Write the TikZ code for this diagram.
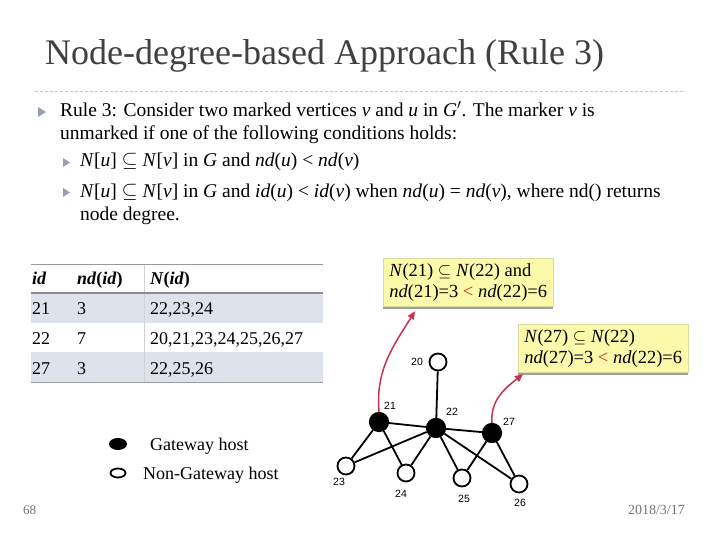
\documentclass[tikz,border=0pt]{standalone}
\usepackage{fontspec}
\setmainfont{Liberation Serif}
\setsansfont{Liberation Sans}
\usetikzlibrary{shapes.geometric,shadows,arrows.meta}

\definecolor{titlegray}{RGB}{64,64,64}
\definecolor{bulletgray}{RGB}{150,160,178}
\definecolor{rowshade}{RGB}{222,226,234}
\definecolor{notefill}{RGB}{250,250,170}
\definecolor{arrowred}{RGB}{200,50,80}
\definecolor{ltred}{RGB}{205,40,10}

\begin{document}
\begin{tikzpicture}[x=1pt,y=1pt,
  gw/.style={circle,fill=black,draw=black,line width=1.2pt,minimum size=19pt,inner sep=0pt},
  ngw/.style={circle,fill=white,draw=black,line width=1.8pt,minimum size=17pt,inner sep=0pt},
  lbl/.style={font=\sffamily\fontsize{10.5}{12}\selectfont,inner sep=0pt},
  link/.style={line width=1.8pt},
  body/.style={anchor=base west,inner sep=0pt,font=\fontsize{19.5}{22}\selectfont},
  cell/.style={anchor=base west,inner sep=0pt,font=\fontsize{18}{22}\selectfont},
  note/.style={anchor=north west,fill=notefill,draw=notefill!75!gray,line width=0.4pt,
    align=left,minimum width=170pt,inner xsep=6pt,inner ysep=5pt,
    font=\fontsize{18.5}{21}\selectfont,
    drop shadow={shadow xshift=0pt,shadow yshift=-3pt,fill=gray!75,opacity=1}},
  pointer/.style={arrowred,line width=1.5pt,-{Triangle[length=8pt,width=7pt]}}]
  \useasboundingbox (0,0) rectangle (720,-540);

  % title
  \node[anchor=base west,inner sep=0pt,font=\fontsize{36}{40}\selectfont,text=titlegray] (title) at (45,-65) {Node-degree-based Approach (Rule 3)};
  \draw[gray!45,dash pattern=on 3pt off 2pt] (35,-91) -- (685,-91);

  % bullets
  \fill[bulletgray] (38,-107) -- (46,-112) -- (38,-117) -- cycle;
  \fill[bulletgray] (63,-158) -- (70,-162.5) -- (63,-167) -- cycle;
  \fill[bulletgray] (63,-188) -- (70,-192.5) -- (63,-197) -- cycle;
  \node[body] (rule1) at (60,-117) {Rule 3: Consider two marked vertices \textit{v} and \textit{u} in \textit{G}$'$. The marker \textit{v} is};
  \node[body] (rule2) at (60,-140) {unmarked if one of the following conditions holds:};
  \node[body] (cond1) at (80,-167) {\textit{N}[\textit{u}] $\subseteq$ \textit{N}[\textit{v}] in \textit{G} and \textit{nd}(\textit{u}) < \textit{nd}(\textit{v})};
  \node[body] (cond2) at (80,-198) {\textit{N}[\textit{u}] $\subseteq$ \textit{N}[\textit{v}] in \textit{G} and \textit{id}(\textit{u}) < \textit{id}(\textit{v}) when \textit{nd}(\textit{u}) = \textit{nd}(\textit{v}), where nd() returns};
  \node[body] (cond3) at (80,-221) {node degree.};

  % table
  \fill[rowshade] (31,-293) rectangle (323,-323);
  \fill[rowshade] (31,-352) rectangle (323,-382);
  \draw[gray!35] (144,-264) -- (144,-382);
  \draw[gray!80,line width=1pt] (31,-264) -- (323,-264);
  \draw[gray!90,line width=1.2pt] (31,-293) -- (323,-293);
  \draw[gray!80,line width=1pt] (31,-382) -- (323,-382);
  \node[cell] (hid) at (32,-284) {\textbf{\textit{id}}};
  \node[cell] (hnd) at (77,-284) {\textbf{\textit{nd}(\textit{id})}};
  \node[cell] (hnb) at (150,-284) {\textbf{\textit{N}(\textit{id})}};
  \foreach \id/\nd/\nb [count=\i] in {21/3/{22,23,24},22/7/{20,21,23,24,25,26,27},27/3/{22,25,26}}{
    \node[cell] (id\i) at (32,-284-30*\i) {\id};
    \node[cell] (nd\i) at (77,-284-30*\i) {\nd};
    \node[cell] (nb\i) at (150,-284-30*\i) {\nb};
  }

  % notes
  \node[note] (note1) at (383,-258) {\textit{N}(21) $\subseteq$ \textit{N}(22) and\\\textit{nd}(21)=3 \textcolor{ltred}{<} \textit{nd}(22)=6};
  \node[note] (note2) at (518,-324) {\textit{N}(27) $\subseteq$ \textit{N}(22)\\\textit{nd}(27)=3 \textcolor{ltred}{<} \textit{nd}(22)=6};

  % graph
  \node[ngw] (v20) at (438,-362) {};
  \node[gw]  (v21) at (379,-422) {};
  \node[gw]  (v22) at (436,-428) {};
  \node[gw]  (v27) at (492,-433) {};
  \node[ngw] (v23) at (346,-466) {};
  \node[ngw] (v24) at (406,-473) {};
  \node[ngw] (v25) at (462,-478) {};
  \node[ngw] (v26) at (519,-484) {};
  \foreach \a/\b in {20/22,21/22,22/27,21/23,21/24,22/23,22/24,22/25,22/26,27/25,27/26}
    \draw[link] (v\a) -- (v\b);
  \node[lbl] (l20) at (417,-362) {20};
  \node[lbl] (l21) at (390,-406) {21};
  \node[lbl] (l22) at (452,-412) {22};
  \node[lbl] (l27) at (509,-422) {27};
  \node[lbl] (l23) at (339,-482) {23};
  \node[lbl] (l24) at (401,-494) {24};
  \node[lbl] (l25) at (464,-499) {25};
  \node[lbl] (l26) at (520,-503) {26};

  \draw[pointer] (v21.north) to[out=95,in=238] ([xshift=32pt,yshift=-5pt]note1.south west);
  \draw[pointer] (v27.north) to[out=95,in=218] ([xshift=5pt,yshift=-2pt]note2.south west);

  % legend
  \node[ellipse,fill=black,minimum width=18pt,minimum height=12pt,inner sep=0pt] (gwkey) at (118,-444) {};
  \node[ellipse,draw=black,line width=1.8pt,minimum width=15pt,minimum height=9pt,inner sep=0pt] (ngwkey) at (118,-473) {};
  \node[cell] (gwtext) at (150,-450) {Gateway host};
  \node[cell] (ngwtext) at (143,-479) {Non-Gateway host};

  % footer
  \node[anchor=base west,inner sep=0pt,font=\fontsize{13}{15}\selectfont,text=gray!90!black] (pagenum) at (23,-514) {68};
  \node[anchor=base east,inner sep=0pt,font=\fontsize{14}{16}\selectfont,text=gray!90!black] (date) at (685,-514) {2018/3/17};
\end{tikzpicture}
\end{document}
